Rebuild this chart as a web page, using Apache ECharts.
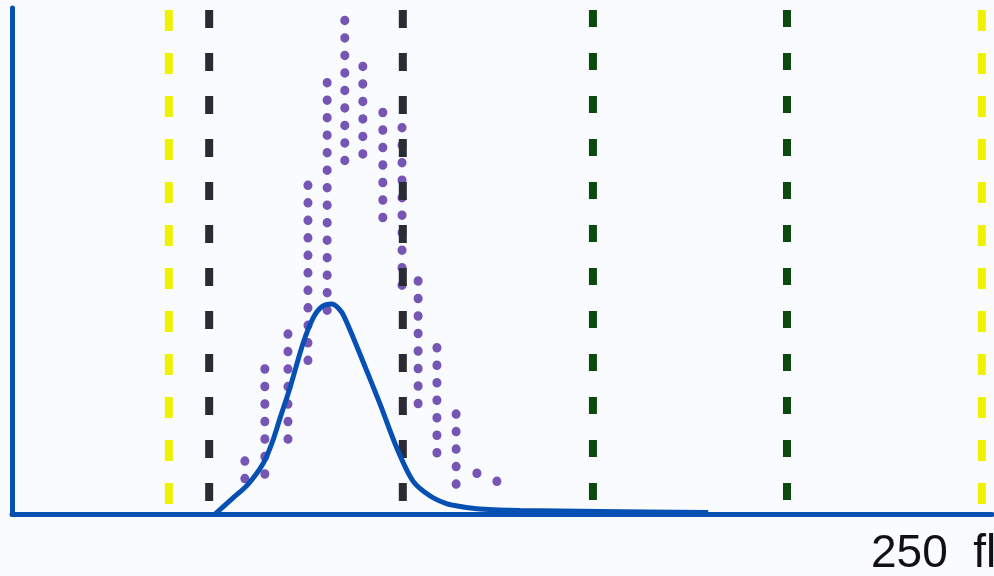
<!DOCTYPE html>
<html>
<head>
<meta charset="utf-8">
<script src="https://cdn.jsdelivr.net/npm/echarts@6/dist/echarts.min.js"></script>
<style>
html,body{margin:0;padding:0;background:#f9fbfe;}
#chart{width:994px;height:576px;}
</style>
</head>
<body>
<div id="chart"></div>
<script>
// Curve (fl, relative count)
const curveFl = [51.8, 56.4, 59.9, 64.0, 66.3, 68.4, 70.9, 74.2, 76.8, 79.1, 81.6, 83.9, 85.5, 89.5, 93.9, 98.2, 102.3, 106.6, 111.0, 115.1, 119.4, 129.6, 150.0, 177.6];
const curveVal = [0, 3.2, 5.6, 9.9, 14.0, 19.0, 24.9, 33.6, 38.7, 41.0, 41.5, 40.1, 37.7, 30.2, 21.7, 13.0, 6.5, 3.6, 2.0, 1.4, 1.0, 0.7, 0.5, 0.3];

// Purple dotted ranges
const rangeFl   = [59.4, 64.5, 70.4, 75.5, 80.4, 84.9, 89.5, 94.6, 99.5, 103.6, 108.4, 113.3, 118.6, 123.7];
const rangeLow  = [4.0, 4.9, 11.9, 27.3, 37.8, 66.7, 68.5, 55.4, 42.2, 19.4, 9.1, 5.5, 4.9, 3.2];
const rangeHigh = [10.5, 28.7, 35.6, 65.0, 85.3, 97.6, 88.5, 79.4, 76.4, 46.1, 32.9, 19.8, 8.1, 6.5];

// Vertical discriminator lines (fl)
const yellowLines = [40.0, 247.4];
const blackLines = [50.3, 99.7];
const greenLines = [148.2, 197.7];

const axisLabelText = '250  fl';

const chart = echarts.init(document.getElementById('chart'), null, {renderer: 'canvas'});
const blue = '#0650b4';

function vline(x, color, dash, z) {
  return {
    type: 'line', data: [[x, 99.6], [x, 0]], symbol: 'none', silent: true, z: z,
    lineStyle: {color: color, width: 8, type: dash, cap: 'butt'}, animation: false
  };
}

const series = [];
series.push({
  type: 'custom', z: 1, animation: false, silent: true,
  data: rangeFl.map((x, i) => [x, rangeLow[i], rangeHigh[i]]),
  renderItem: function (params, api) {
    const top = api.coord([api.value(0), api.value(2)]);
    const bot = api.coord([api.value(0), api.value(1)]);
    return {
      type: 'line',
      shape: {x1: top[0], y1: top[1], x2: bot[0], y2: bot[1]},
      style: {stroke: '#7656b5', lineWidth: 9, lineDash: [0.5, 17], lineCap: 'round', fill: null}
    };
  }
});
yellowLines.forEach(x => series.push(vline(x, '#eef200', [21, 22], 2)));
blackLines.forEach(x => series.push(vline(x, '#2a2b33', [18, 25], 3)));
greenLines.forEach(x => series.push(vline(x, '#0b4a0e', [17, 26], 3)));
series.push({
  type: 'line', data: curveFl.map((x, i) => [x, curveVal[i]]), smooth: 0.3, symbol: 'none', z: 5,
  lineStyle: {color: blue, width: 5}, animation: false, silent: true
});

chart.setOption({
  backgroundColor: '#f9fbfe',
  animation: false,
  grid: {left: 12, right: 2, top: 8, bottom: 62, containLabel: false},
  xAxis: {
    type: 'value', min: 0, max: 250,
    axisLine: {show: true, lineStyle: {color: blue, width: 5}},
    axisTick: {show: false}, axisLabel: {show: false}, splitLine: {show: false}
  },
  yAxis: {
    type: 'value', min: 0, max: 100,
    axisLine: {show: true, lineStyle: {color: blue, width: 5}},
    axisTick: {show: false}, axisLabel: {show: false}, splitLine: {show: false}
  },
  graphic: [{
    type: 'text', left: 871, top: 531,
    style: {text: axisLabelText, font: '46px "Liberation Sans", Arial, sans-serif', fill: '#111'}
  }],
  series: series
});
</script>
</body>
</html>
